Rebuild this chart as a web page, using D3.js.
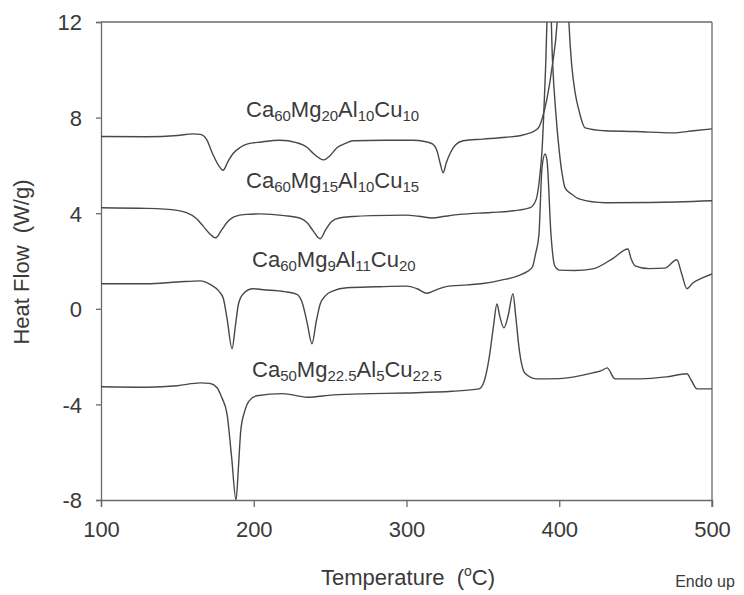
<!DOCTYPE html>
<html>
<head>
<meta charset="utf-8">
<script src="https://cdn.jsdelivr.net/npm/d3@7"></script>
<style>
  html, body { margin: 0; padding: 0; background: #fff; }
  svg { display: block; font-family: "Liberation Sans", Arial, sans-serif; }
</style>
</head>
<body>
<svg id="chart" width="744" height="595"></svg>
<script>
// ---------- data ----------
const xTicks = [100, 200, 300, 400, 500];
const yTicks = [-8, -4, 0, 4, 8, 12];

// Ca60Mg20Al10Cu10  [temperature °C, heat flow W/g]
const series1 = [
  [100,7.21],[130,7.2],[150,7.25],[160,7.32],[165,7.3],[169,7.1],[173,6.5],[177,6.0],[180,5.8],
  [183,6.15],[186.5,6.5],[191,6.75],[196,6.9],[205,6.98],[217,7.05],[228,6.95],[235,6.75],[239,6.5],
  [243,6.3],[246,6.23],[249,6.35],[254.5,6.74],[260,6.92],[265,7.03],[285,7.05],[304,7.05],[312,7.0],
  [317,6.9],[320,6.6],[322,6.1],[324,5.69],[326,6.1],[328.5,6.5],[332,6.85],[337,7.03],[350,7.1],
  [365,7.18],[375,7.25],[381,7.36],[384,7.45],[386.7,7.6],[389,8.0],[392,8.8],[395.5,10.2],
  [398.5,11.9],[400.5,14.5],[405,14.5],[406.4,11.9],[408.3,10.1],[410.5,9.0],[412.9,8.3],[416.9,7.57],
  [430,7.45],[450,7.42],[474,7.36],[488,7.45],[500,7.53]
];
// Ca60Mg15Al10Cu15
const series2 = [
  [100,4.23],[130,4.2],[150,4.12],[156,4.02],[162,3.8],[167,3.45],[171,3.15],[175,2.97],[179,3.3],
  [183,3.65],[187,3.85],[195,3.95],[204,3.97],[220,3.9],[230,3.8],[235,3.6],[239,3.25],[243.5,2.93],
  [247,3.3],[251,3.65],[256,3.8],[265,3.86],[277,3.9],[300,3.92],[308,3.87],[317,3.8],[325,3.87],
  [335,3.95],[355,4.03],[370,4.1],[381,4.23],[385,4.6],[387,5.4],[388.7,6.6],[391,10],[393.5,14.5],
  [395.5,10.5],[398,8],[400,6.6],[402,5.6],[403.8,5.06],[408,4.8],[412.9,4.6],[430,4.44],[460,4.45],
  [500,4.52]
];
// Ca60Mg9Al11Cu20
const series3 = [
  [100,1.05],[130,1.05],[150,1.12],[165,1.17],[172,1.0],[177,0.75],[180,0.45],[182.5,-0.4],[185.8,-1.67],
  [188,-0.7],[190,0.2],[193,0.62],[199.5,0.84],[206,0.8],[220,0.72],[228.3,0.6],[232,0.2],[235,-0.6],
  [238.1,-1.46],[241,-0.5],[243.5,0.2],[247,0.55],[252,0.75],[261,0.88],[280,0.92],[300,0.95],[307,0.84],
  [313.4,0.65],[319,0.78],[326,0.93],[340,1.0],[350,1.06],[362,1.2],[376,1.46],[382.2,1.72],[384.5,2.3],
  [386.7,3.1],[388.7,5.9],[390.7,6.48],[392,6.2],[394.6,3.1],[397,1.8],[400,1.62],[410,1.6],[422,1.67],
  [435,2.1],[445,2.5],[447,2.1],[449.6,1.8],[459,1.68],[469,1.7],[477,2.05],[480,1.5],[483.6,0.84],
  [487.6,1.09],[494,1.3],[500,1.46]
];
// Ca50Mg22.5Al5Cu22.5
const series4 = [
  [100,-3.26],[130,-3.28],[150,-3.22],[165,-3.1],[171,-3.12],[176,-3.3],[179,-3.7],[182.5,-4.4],
  [185.5,-6.2],[188.4,-8.0],[190,-6.6],[191.5,-5.1],[194,-4.3],[197,-3.85],[202,-3.64],[219,-3.55],
  [235,-3.7],[252,-3.6],[277,-3.55],[300,-3.52],[330,-3.45],[347.5,-3.35],[351,-3.0],[354,-2.1],
  [357,-0.7],[359.2,0.2],[361,-0.3],[363.8,-0.8],[366.5,-0.3],[369.7,0.63],[371.5,-0.3],[373.6,-1.6],
  [377.6,-2.7],[385,-2.93],[400,-2.92],[422,-2.68],[428,-2.58],[431.3,-2.47],[436.5,-2.93],[453,-2.93],
  [470,-2.85],[483.6,-2.72],[486.5,-3.0],[490.2,-3.35],[500,-3.35]
];

// label text parts: [text, isSubscript]
const label1 = [["Ca",0],["60",1],["Mg",0],["20",1],["Al",0],["10",1],["Cu",0],["10",1]];
const label2 = [["Ca",0],["60",1],["Mg",0],["15",1],["Al",0],["10",1],["Cu",0],["15",1]];
const label3 = [["Ca",0],["60",1],["Mg",0],["9",1],["Al",0],["11",1],["Cu",0],["20",1]];
const label4 = [["Ca",0],["50",1],["Mg",0],["22.5",1],["Al",0],["5",1],["Cu",0],["22.5",1]];

// ---------- layout ----------
const svg = d3.select("#chart");
const L = 101, R = 712, T = 22, B = 500;
const x = d3.scaleLinear().domain([100, 500]).range([L, R]);
const y = d3.scaleLinear().domain([-8, 12]).range([B, T]);
const ink = "#484848", axisInk = "#6a6a6a", textInk = "#3a3a3a";

svg.append("defs").append("clipPath").attr("id", "clip")
  .append("rect").attr("x", L).attr("y", T).attr("width", R - L).attr("height", B - T);

// axes
const fmt = d => String(d);
const xAxis = svg.append("g").attr("transform", `translate(0,${B})`)
  .call(d3.axisBottom(x).tickValues(xTicks).tickSize(7).tickPadding(14).tickFormat(fmt));
const yAxis = svg.append("g").attr("transform", `translate(${L},0)`)
  .call(d3.axisLeft(y).tickValues(yTicks).tickSize(5).tickPadding(14).tickFormat(fmt));
[xAxis, yAxis].forEach(g => {
  g.select(".domain").attr("stroke", axisInk).attr("stroke-width", 1.3);
  g.selectAll(".tick line").attr("stroke", axisInk).attr("stroke-width", 1.3);
  g.selectAll(".tick text").attr("fill", textInk).attr("font-size", 22)
    .attr("font-family", "'Liberation Sans', Arial, sans-serif");
});
yAxis.selectAll(".tick text").attr("dy", "0.36em");
xAxis.selectAll(".tick text").attr("dy", "0.71em");

// top and right frame
svg.append("line").attr("x1", L).attr("x2", R).attr("y1", T).attr("y2", T)
  .attr("stroke", axisInk).attr("stroke-width", 1.3);
svg.append("line").attr("x1", R).attr("x2", R).attr("y1", T).attr("y2", B + 7)
  .attr("stroke", axisInk).attr("stroke-width", 1.3);

// curves
const line = d3.line().x(d => x(d[0])).y(d => y(d[1])).curve(d3.curveMonotoneX);
const plot = svg.append("g").attr("clip-path", "url(#clip)");
[series1, series2, series3, series4].forEach(s => {
  plot.append("path").datum(s).attr("d", line)
    .attr("fill", "none").attr("stroke", ink).attr("stroke-width", 1.4)
    .attr("stroke-linejoin", "round");
});

// series labels
function addLabel(parts, px, py) {
  const t = svg.append("text").attr("x", px).attr("y", py)
    .attr("fill", textInk).attr("font-size", 22);
  parts.forEach(([s, sub]) => {
    if (sub) {
      t.append("tspan").attr("font-size", 15).attr("dy", 4).text(s);
    } else {
      t.append("tspan").attr("dy", t.selectAll("tspan").size() ? -4 : 0).text(s);
    }
  });
}
addLabel(label1, 246, 121);
addLabel(label2, 246, 192);
addLabel(label3, 252, 271);
addLabel(label4, 252, 381);

// axis titles
const xt = svg.append("text").attr("x", 408).attr("y", 585).attr("text-anchor", "middle")
  .attr("fill", textInk).attr("font-size", 22);
xt.append("tspan").text("Temperature\u00a0\u00a0(");
xt.append("tspan").attr("font-size", 14).attr("dy", -9).text("o");
xt.append("tspan").attr("dy", 9).text("C)");

svg.append("text").attr("transform", "translate(29,262) rotate(-90)")
  .attr("text-anchor", "middle").attr("fill", textInk).attr("font-size", 22)
  .text("Heat Flow\u00a0\u00a0(W/g)");

svg.append("text").attr("x", 705).attr("y", 587).attr("text-anchor", "middle")
  .attr("fill", textInk).attr("font-size", 16).text("Endo up");
</script>
</body>
</html>
